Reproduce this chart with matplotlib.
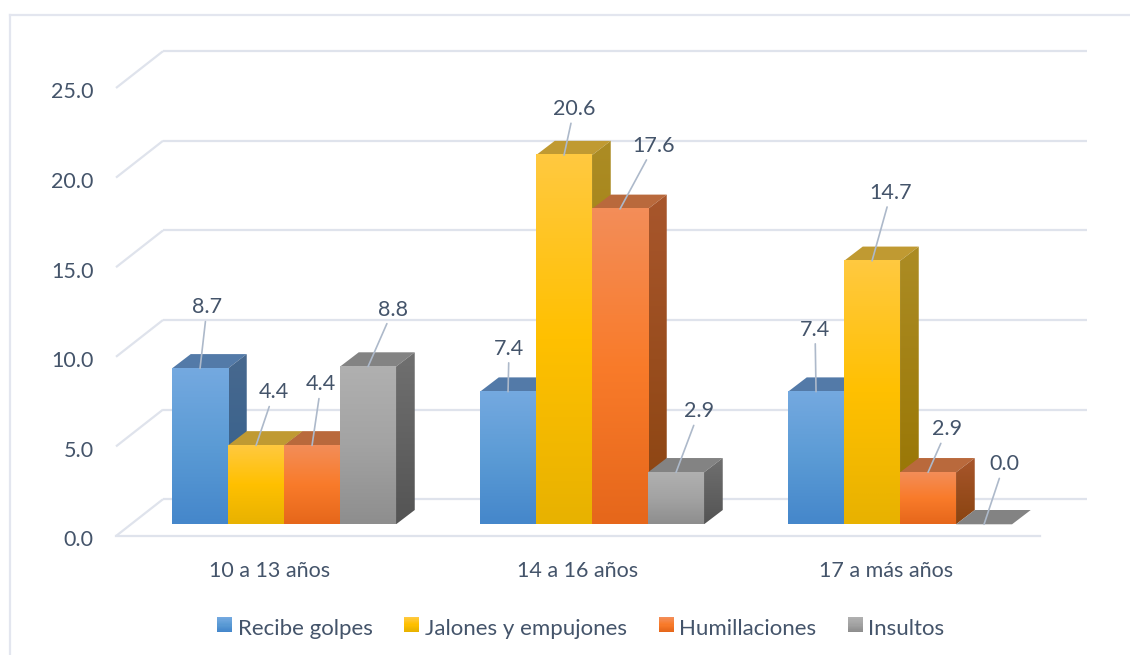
"""
Grafico de barras 3D: tipo de violencia por grupo de edad
"""

import matplotlib
matplotlib.use('Agg')
import matplotlib.pyplot as plt
import numpy as np
from matplotlib.colors import LinearSegmentedColormap
from matplotlib.legend_handler import HandlerBase
from matplotlib.lines import Line2D
from matplotlib.patches import Patch, Polygon, Rectangle
from matplotlib.transforms import ScaledTranslation

plt.rcParams['font.family'] = ['Lato', 'DejaVu Sans']

categories = ['10 a 13 años', '14 a 16 años', '17 a más años']
series_names = ['Recibe golpes', 'Jalones y empujones', 'Humillaciones', 'Insultos']
recibe_golpes = [8.7, 7.4, 7.4]
jalones = [4.4, 20.6, 14.7]
humillaciones = [4.4, 17.6, 2.9]
insultos = [8.8, 2.9, 0.0]
y_ticks = [0, 5, 10, 15, 20, 25]

series_values = [recibe_golpes, jalones, humillaciones, insultos]

# colores: frente (arriba, medio, abajo), cara superior, lateral (arriba, abajo)
front_colors = [['#74A9E0', '#5B9BD5', '#4587CB'],
                ['#FFC93F', '#FFC000', '#E8B200'],
                ['#F38D58', '#F97B2A', '#E6671B'],
                ['#B0B0B0', '#A3A3A3', '#8E8E8E']]
top_colors = ['#537AA8', '#C09A32', '#B9693C', '#838383']
side_colors = [['#48698F', '#325F8C'],
               ['#AC8C24', '#967300'],
               ['#A8562C', '#8A4410'],
               ['#707070', '#545454']]

TEXT = '#44546A'
GRID = '#DFE3EC'
LEADER = '#ADB9CA'

# separacion de cada etiqueta respecto al centro de la barra (px)
label_offsets = [[(7, 61), (1, 43), (-1, 62)],
                 [(18, 53), (10, 46), (19, 68)],
                 [(9, 61), (34, 63), (19, 43)],
                 [(25, 57), (23, 61), (20, 60)]]

PX_X = 308.0      # pixeles por categoria
PX_Y = 17.92      # pixeles por unidad
BAR_W = 56 / PX_X
GROUP_PAD = 0.1365
BASE_DX, BASE_DY = 14 / PX_X, 11.7 / PX_Y
BAR_DX, BAR_DY = 18.7 / PX_X, 14.3 / PX_Y
WALL_DX, WALL_DY = 47 / PX_X, 36.8 / PX_Y

W, H = 1130, 655
fig = plt.figure(figsize=(W / 100, H / 100), dpi=100)
ax = fig.add_axes([116 / W, 1 - 536 / H, 924 / W, 448 / H])
ax.patch.set_alpha(0)


def shade(x0, x1, y0, y1, colors, zorder, clip=None):
    """Rellena con un degradado vertical"""
    cmap = LinearSegmentedColormap.from_list('g', colors)
    grad = np.linspace(0, 1, 64).reshape(-1, 1)
    im = ax.imshow(grad, cmap=cmap, extent=(x0, x1, y0, y1), origin='upper',
                   aspect='auto', zorder=zorder, interpolation='bilinear',
                   clip_on=False)
    if clip is not None:
        clip.set_transform(ax.transData)
        im.set_clip_path(clip)
        im.set_clip_on(True)


# Paredes y piso
for t in y_ticks:
    ax.plot([0, WALL_DX], [t, t + WALL_DY], color=GRID, lw=1.6, clip_on=False,
            zorder=1, solid_capstyle='butt')
    ax.plot([WALL_DX, 3 + WALL_DX], [t + WALL_DY, t + WALL_DY], color=GRID, lw=1.6,
            clip_on=False, zorder=1, solid_capstyle='butt')
ax.plot([0, 3], [0, 0], color=GRID, lw=1.6, clip_on=False, zorder=1)

# Barras
z = 2
for c in range(len(categories)):
    for s, values in enumerate(series_values):
        v = values[c]
        x0 = c + GROUP_PAD + BASE_DX + s * BAR_W
        x1 = x0 + BAR_W
        y0 = BASE_DY
        y1 = BASE_DY + v
        top = Polygon([(x0, y1), (x1, y1), (x1 + BAR_DX, y1 + BAR_DY), (x0 + BAR_DX, y1 + BAR_DY)],
                      closed=True, fc=top_colors[s], ec='none', zorder=z, clip_on=False)
        ax.add_patch(top)
        if v > 0:
            side = Polygon([(x1, y0), (x1 + BAR_DX, y0 + BAR_DY),
                            (x1 + BAR_DX, y1 + BAR_DY), (x1, y1)], closed=True)
            shade(x1, x1 + BAR_DX, y0, y1 + BAR_DY, side_colors[s], z + 1, clip=side)
            shade(x0, x1, y0, y1, front_colors[s], z + 2)
        z += 3

# Etiquetas con linea guia
for c in range(len(categories)):
    for s, values in enumerate(series_values):
        v = values[c]
        cx = c + GROUP_PAD + BASE_DX + (s + 0.5) * BAR_W
        ax.annotate(f'{v:.1f}', xy=(cx, BASE_DY + v), xytext=label_offsets[s][c],
                    textcoords='offset pixels', ha='center', va='center',
                    fontsize=15.5, color=TEXT, zorder=500, annotation_clip=False,
                    arrowprops=dict(arrowstyle='-', color=LEADER, lw=1.2,
                                    shrinkA=1, shrinkB=0, zorder=499))

ax.set_xlim(0, 3)
ax.set_ylim(0, 25)
ax.set_xticks(np.arange(len(categories)) + 0.5)
ax.set_xticklabels(categories, fontsize=15.5, color=TEXT)
ax.set_yticks(y_ticks)
ax.set_yticklabels([f'{t:.1f}' for t in y_ticks], fontsize=15.5, color=TEXT)
ax.tick_params(axis='x', length=0, pad=18)
ax.tick_params(axis='y', length=0, pad=16)
for spine in ax.spines.values():
    spine.set_visible(False)

# las etiquetas del eje y van un poco mas abajo que la linea
for label in ax.get_yticklabels():
    label.set_transform(label.get_transform() + ScaledTranslation(0, -2.5 / 100, fig.dpi_scale_trans))


class GradientSquare(HandlerBase):
    """Cuadro de la leyenda con degradado"""

    def create_artists(self, legend, orig, xd, yd, width, height, fontsize, trans):
        cmap = LinearSegmentedColormap.from_list('g', orig.grad_colors)
        n = 12
        side = 15 * 0.72
        y_start = -yd + (height - side) / 2 + 2
        artists = []
        for i in range(n):
            artists.append(Rectangle((-xd, y_start + side * (n - 1 - i) / n), side, side / n + 0.1,
                                     fc=cmap(i / (n - 1)), ec='none', transform=trans))
        return artists


handles = []
for s, name in enumerate(series_names):
    h = Patch(label=name)
    h.grad_colors = front_colors[s]
    handles.append(h)
fig.legend(handles=handles, loc='center', bbox_to_anchor=(581 / W, 1 - 629 / H), ncol=4,
           frameon=False, fontsize=16, labelcolor=TEXT, handler_map={Patch: GradientSquare()},
           handlelength=0.675, handletextpad=0.25, columnspacing=1.42)

# Marco del grafico
fig.add_artist(Line2D([10 / W, 10 / W], [0, 1 - 14.5 / H], color='#E3E6EF', lw=1.6))
fig.add_artist(Line2D([10 / W, 1], [1 - 14.5 / H, 1 - 14.5 / H], color='#E3E6EF', lw=1.6))

fig.savefig('out.png', dpi=100)
plt.close(fig)
